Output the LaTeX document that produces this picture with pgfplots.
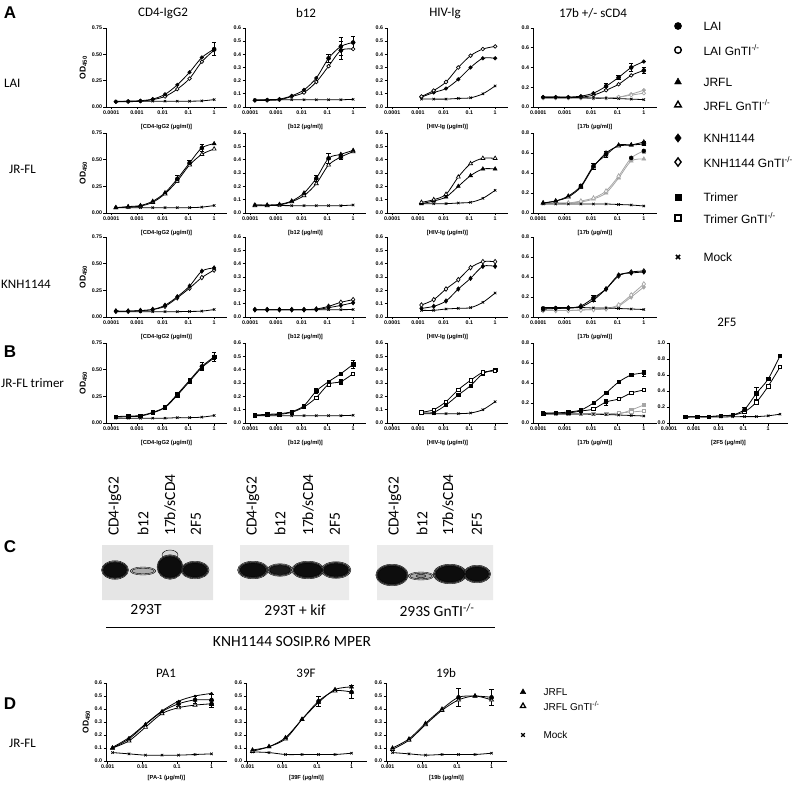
\documentclass[border=0pt]{standalone}
\usepackage{fontspec}
\setmainfont{Liberation Sans}
\newfontfamily\calfont{Carlito}
\usepackage{pgfplots}
\usepackage{pgfplotstable}
\pgfplotsset{compat=1.18}
\newcommand{\tickfont}{\fontsize{5.3}{6}\selectfont\bfseries}
\newcommand{\labfont}{\fontsize{5.8}{6.5}\selectfont\bfseries}
\newcommand{\odfont}{\fontsize{8.5}{9}\selectfont\bfseries}
\newcommand{\ttl}{\calfont\fontsize{13}{14}\selectfont}
\newcommand{\blotfont}{\calfont\fontsize{15.5}{16}\selectfont}
\newcommand{\legfont}{\fontsize{12}{13}\selectfont}
\newcommand{\legDfont}{\fontsize{10}{11}\selectfont}
\newcommand{\panfont}{\fontsize{17}{18}\selectfont\bfseries}
\newcommand{\OD}{OD\textsubscript{450}}

\pgfplotsset{
 myax/.style={
  /pgfplots/scale only axis, /pgfplots/clip=false,
  /pgfplots/axis x line*=bottom, /pgfplots/axis y line*=left,
  /pgfplots/axis line style={line width=0.9pt,-},
  /pgfplots/xminorticks=false, /pgfplots/yminorticks=false,
  /pgfplots/tick align=outside, /pgfplots/major tick length=2.5pt,
  /pgfplots/tick style={line width=0.8pt, black},
  /pgfplots/tick label style={font=\tickfont, inner sep=1.2pt},
  /pgfplots/xtick={0.0001,0.001,0.01,0.1,1},
  /pgfplots/xticklabels={0.0001,0.001,0.01,0.1,1},
  /pgfplots/xmin=0.000063, /pgfplots/xmax=3.16, /pgfplots/ymin=0,
  /pgfplots/width=121pt, /pgfplots/height=79pt,
  /pgfplots/xlabel style={font=\labfont, yshift=-5pt},
  /pgfplots/ylabel style={font=\odfont},
 },
 myyA/.style={/pgfplots/ymax=0.75, /pgfplots/ytick={0,0.25,0.5,0.75}, /pgfplots/yticklabels={0.00,0.25,0.50,0.75}},
 myyB/.style={/pgfplots/ymax=0.6, /pgfplots/ytick={0,0.1,0.2,0.3,0.4,0.5,0.6}, /pgfplots/yticklabels={0.0,0.1,0.2,0.3,0.4,0.5,0.6}},
 myyC/.style={/pgfplots/ymax=0.8, /pgfplots/ytick={0,0.2,0.4,0.6,0.8}, /pgfplots/yticklabels={0.0,0.2,0.4,0.6,0.8}},
 myyD/.style={/pgfplots/ymax=1.0, /pgfplots/ytick={0,0.2,0.4,0.6,0.8,1.0}, /pgfplots/yticklabels={0.0,0.2,0.4,0.6,0.8,1.0}},
 sbase/.style={black, line width=0.8pt, smooth, tension=0.5, mark size=1.8pt},
 sfc/.style={sbase, mark=*, mark options={solid, line width=0.5pt}},
 soc/.style={sbase, mark=*, mark options={solid, fill=white, line width=0.7pt}},
 sft/.style={sbase, mark=triangle*, mark size=2.3pt, mark options={solid, line width=0.5pt}},
 sot/.style={sbase, mark=triangle*, mark size=2.3pt, mark options={solid, fill=white, line width=0.7pt}},
 sfd/.style={sbase, mark=diamond*, mark size=2.3pt, mark options={solid, line width=0.5pt}},
 sod/.style={sbase, mark=diamond*, mark size=2.3pt, mark options={solid, fill=white, line width=0.7pt}},
 sfs/.style={sbase, mark=square*, mark size=1.7pt, mark options={solid, line width=0.5pt}},
 sos/.style={sbase, mark=square*, mark size=1.7pt, mark options={solid, fill=white, line width=0.7pt}},
 smk/.style={sbase, mark=x, mark size=1.7pt, mark options={solid, line width=0.7pt}},
 sgr/.style={gray!70},
 seb/.style={only marks, mark=none,
   /pgfplots/error bars/y dir=both, /pgfplots/error bars/y explicit,
   /pgfplots/error bars/error bar style={line width=0.7pt, black},
   /pgfplots/error bars/error mark options={rotate=90, mark size=2.2pt, line width=0.7pt, black}},
 sebg/.style={only marks, mark=none,
   /pgfplots/error bars/y dir=both, /pgfplots/error bars/y explicit,
   /pgfplots/error bars/error bar style={line width=0.7pt, gray!70},
   /pgfplots/error bars/error mark options={rotate=90, mark size=2.2pt, line width=0.7pt, gray!70}},
 bandO/.style n args={3}{only marks, mark=*, mark size=#1pt, mark options={xscale=#2, draw=none, fill=#3}},
}

% ---------------- data ----------------
\pgfplotstableread{
x f o m
0.0001524 0.050 0.050 0.055
0.000457 0.055 0.050 0.055
0.001372 0.060 0.055 0.055
0.004115 0.075 0.070 0.055
0.01235 0.120 0.100 0.055
0.03704 0.210 0.170 0.055
0.1111 0.330 0.270 0.055
0.3333 0.470 0.430 0.058
1 0.550 0.540 0.070
}\tLcd
\pgfplotstableread{
x f o m
0.0001524 0.050 0.050 0.055
0.000457 0.055 0.050 0.055
0.001372 0.060 0.055 0.055
0.004115 0.085 0.080 0.055
0.01235 0.130 0.110 0.055
0.03704 0.220 0.190 0.055
0.1111 0.370 0.310 0.055
0.3333 0.460 0.430 0.055
1 0.490 0.440 0.058
}\tLb
\pgfplotstableread{
x f o m
0.001372 0.075 0.080 0.060
0.004115 0.110 0.125 0.060
0.01235 0.140 0.190 0.060
0.03704 0.210 0.300 0.065
0.1111 0.300 0.390 0.070
0.3333 0.370 0.440 0.100
1 0.370 0.460 0.160
}\tLh
\pgfplotstableread{
x f o gf go m
0.0001524 0.100 0.100 0.090 0.090 0.095
0.000457 0.100 0.100 0.090 0.090 0.095
0.001372 0.100 0.100 0.090 0.090 0.095
0.004115 0.110 0.100 0.090 0.090 0.095
0.01235 0.140 0.120 0.090 0.090 0.090
0.03704 0.210 0.170 0.090 0.090 0.090
0.1111 0.300 0.230 0.100 0.100 0.085
0.3333 0.400 0.320 0.130 0.120 0.080
1 0.460 0.370 0.170 0.140 0.075
}\tLs
\pgfplotstableread{
x f o m
0.0001524 0.050 0.050 0.050
0.000457 0.060 0.055 0.050
0.001372 0.070 0.065 0.050
0.004115 0.110 0.100 0.050
0.01235 0.190 0.180 0.050
0.03704 0.320 0.300 0.050
0.1111 0.470 0.450 0.050
0.3333 0.610 0.550 0.055
1 0.650 0.600 0.070
}\tJcd
\pgfplotstableread{
x f o m
0.0001524 0.060 0.055 0.060
0.000457 0.060 0.055 0.058
0.001372 0.065 0.060 0.056
0.004115 0.090 0.085 0.055
0.01235 0.150 0.130 0.055
0.03704 0.260 0.220 0.055
0.1111 0.410 0.360 0.055
0.3333 0.440 0.420 0.055
1 0.470 0.460 0.060
}\tJb
\pgfplotstableread{
x f o m
0.001372 0.070 0.080 0.070
0.004115 0.090 0.100 0.070
0.01235 0.120 0.140 0.070
0.03704 0.200 0.270 0.075
0.1111 0.280 0.370 0.080
0.3333 0.330 0.410 0.110
1 0.330 0.410 0.170
}\tJh
\pgfplotstableread{
x f o gf go m
0.0001524 0.100 0.100 0.100 0.100 0.090
0.000457 0.120 0.120 0.100 0.100 0.090
0.001372 0.170 0.160 0.100 0.100 0.090
0.004115 0.270 0.260 0.110 0.120 0.090
0.01235 0.470 0.460 0.140 0.150 0.090
0.03704 0.580 0.600 0.200 0.220 0.090
0.1111 0.680 0.670 0.350 0.370 0.085
0.3333 0.680 0.680 0.520 0.550 0.080
1 0.690 0.710 0.540 0.620 0.070
}\tJs
\pgfplotstableread{
x f o m
0.0001524 0.055 0.055 0.050
0.000457 0.055 0.055 0.050
0.001372 0.060 0.060 0.050
0.004115 0.070 0.070 0.050
0.01235 0.110 0.100 0.050
0.03704 0.190 0.180 0.050
0.1111 0.290 0.270 0.052
0.3333 0.430 0.370 0.055
1 0.460 0.440 0.070
}\tKcd
\pgfplotstableread{
x f o m
0.0001524 0.055 0.055 0.055
0.000457 0.055 0.055 0.055
0.001372 0.055 0.055 0.055
0.004115 0.055 0.055 0.055
0.01235 0.055 0.055 0.055
0.03704 0.056 0.060 0.055
0.1111 0.070 0.080 0.055
0.3333 0.087 0.110 0.055
1 0.107 0.130 0.056
}\tKb
\pgfplotstableread{
x f o m
0.001372 0.065 0.090 0.050
0.004115 0.080 0.130 0.050
0.01235 0.120 0.210 0.060
0.03704 0.210 0.280 0.065
0.1111 0.290 0.370 0.070
0.3333 0.380 0.415 0.110
1 0.380 0.415 0.180
}\tKh
\pgfplotstableread{
x f o gf go m
0.0001524 0.080 0.080 0.065 0.065 0.095
0.000457 0.085 0.085 0.065 0.065 0.095
0.001372 0.090 0.090 0.065 0.065 0.095
0.004115 0.100 0.110 0.070 0.070 0.095
0.01235 0.170 0.190 0.075 0.075 0.090
0.03704 0.280 0.280 0.080 0.085 0.090
0.1111 0.420 0.410 0.110 0.120 0.085
0.3333 0.440 0.450 0.200 0.220 0.080
1 0.450 0.460 0.300 0.330 0.075
}\tKs
\pgfplotstableread{
x f o m
0.0001524 0.060 0.055 0.045
0.000457 0.065 0.060 0.045
0.001372 0.070 0.065 0.045
0.004115 0.100 0.095 0.045
0.01235 0.150 0.145 0.045
0.03704 0.270 0.260 0.050
0.1111 0.400 0.390 0.050
0.3333 0.530 0.520 0.055
1 0.620 0.610 0.070
}\tTcd
\pgfplotstableread{
x f o m
0.0001524 0.060 0.055 0.055
0.000457 0.065 0.060 0.055
0.001372 0.070 0.065 0.055
0.004115 0.085 0.080 0.055
0.01235 0.130 0.120 0.055
0.03704 0.240 0.190 0.055
0.1111 0.310 0.290 0.055
0.3333 0.370 0.310 0.055
1 0.440 0.370 0.058
}\tTb
\pgfplotstableread{
x f o m
0.001372 0.075 0.080 0.070
0.004115 0.080 0.100 0.070
0.01235 0.135 0.160 0.070
0.03704 0.210 0.250 0.070
0.1111 0.280 0.320 0.075
0.3333 0.370 0.380 0.100
1 0.400 0.390 0.160
}\tTh
\pgfplotstableread{
x f o gf go m
0.0001524 0.095 0.100 0.090 0.090 0.090
0.000457 0.100 0.100 0.090 0.090 0.090
0.001372 0.110 0.100 0.090 0.090 0.090
0.004115 0.130 0.120 0.090 0.090 0.090
0.01235 0.200 0.140 0.090 0.090 0.088
0.03704 0.300 0.210 0.090 0.090 0.085
0.1111 0.410 0.240 0.090 0.100 0.080
0.3333 0.480 0.300 0.130 0.110 0.075
1 0.500 0.330 0.180 0.120 0.070
}\tTs
\pgfplotstableread{
x f o m
0.000457 0.075 0.075 0.075
0.001372 0.080 0.080 0.075
0.004115 0.080 0.080 0.075
0.01235 0.090 0.090 0.075
0.03704 0.100 0.100 0.078
0.1111 0.170 0.140 0.080
0.3333 0.370 0.260 0.080
1 0.550 0.460 0.090
3 0.840 0.700 0.110
}\tTf
\pgfplotstableread{
x t f o m
0.001372 0.105 0.100 0.100 0.065
0.004115 0.180 0.170 0.155 0.055
0.01235 0.285 0.280 0.260 0.045
0.03704 0.385 0.380 0.365 0.045
0.1111 0.460 0.440 0.410 0.045
0.3333 0.500 0.470 0.430 0.050
1 0.520 0.470 0.440 0.055
}\tDa
\pgfplotstableread{
x f o m
0.001372 0.085 0.075 0.070
0.004115 0.110 0.110 0.065
0.01235 0.180 0.170 0.050
0.03704 0.320 0.320 0.050
0.1111 0.450 0.460 0.050
0.3333 0.550 0.540 0.050
1 0.570 0.530 0.060
}\tDb
\pgfplotstableread{
x f o m
0.001372 0.100 0.090 0.065
0.004115 0.170 0.160 0.055
0.01235 0.290 0.280 0.045
0.03704 0.400 0.390 0.050
0.1111 0.490 0.470 0.050
0.3333 0.500 0.500 0.050
1 0.490 0.470 0.060
}\tDc

\begin{document}
\begin{tikzpicture}
\path[use as bounding box] (0pt,0pt) rectangle (800pt,788pt);

% ================= overlay: text, legend, blot =================
\begin{axis}[at={(0pt,0pt)}, anchor=south west, scale only axis, width=800pt, height=788pt,
  xmin=0, xmax=800, ymin=0, ymax=788, y dir=reverse, hide axis, clip=false]
\node[font=\panfont] at (axis cs:10,13) {A};
\node[font=\panfont] at (axis cs:10,352) {B};
\node[font=\panfont] at (axis cs:10,547) {C};
\node[font=\panfont] at (axis cs:10,704) {D};
\node[font=\ttl] at (axis cs:163,13) {CD4-IgG2};
\node[font=\ttl] at (axis cs:306,13) {b12};
\node[font=\ttl] at (axis cs:445,13) {HIV-Ig};
\node[font=\ttl] at (axis cs:593,13) {17b +/- sCD4};
\node[font=\ttl] at (axis cs:727,322) {2F5};
\node[font=\ttl] at (axis cs:166,673) {PA1};
\node[font=\ttl] at (axis cs:306,673) {39F};
\node[font=\ttl] at (axis cs:446,673) {19b};
\node[font=\ttl, anchor=west, inner sep=0pt] at (axis cs:4,83) {LAI};
\node[font=\ttl, anchor=west, inner sep=0pt] at (axis cs:9,169) {JR-FL};
\node[font=\ttl, anchor=west, inner sep=0pt] at (axis cs:1,284) {KNH1144};
\node[font=\ttl, anchor=west, inner sep=0pt] at (axis cs:1,383) {JR-FL trimer};
\node[font=\ttl, anchor=west, inner sep=0pt] at (axis cs:9,743) {JR-FL};
% legend A
\addplot[only marks, mark=*, mark size=3.6pt] coordinates {(678,26)};
\addplot[only marks, mark=*, mark size=3.3pt, mark options={fill=white, line width=1.4pt}] coordinates {(678,50)};
\addplot[only marks, mark=triangle*, mark size=4pt] coordinates {(678,82)};
\addplot[only marks, mark=triangle*, mark size=3.8pt, mark options={fill=white, line width=1.4pt}] coordinates {(678,105)};
\addplot[only marks, mark=diamond*, mark size=4.3pt] coordinates {(678,138)};
\addplot[only marks, mark=diamond*, mark size=4.1pt, mark options={fill=white, line width=1.4pt}] coordinates {(678,162)};
\addplot[only marks, mark=square*, mark size=3.3pt] coordinates {(678,197)};
\addplot[only marks, mark=square*, mark size=3.1pt, mark options={fill=white, line width=1.4pt}] coordinates {(678,218)};
\addplot[only marks, mark=x, mark size=3pt, mark options={line width=1.5pt}] coordinates {(678,257)};
\node[anchor=west, font=\legfont] at (axis cs:700,26) {LAI};
\node[anchor=west, font=\legfont] at (axis cs:700,50) {LAI GnTI\textsuperscript{-/-}};
\node[anchor=west, font=\legfont] at (axis cs:700,82) {JRFL};
\node[anchor=west, font=\legfont] at (axis cs:700,105) {JRFL GnTI\textsuperscript{-/-}};
\node[anchor=west, font=\legfont] at (axis cs:700,138) {KNH1144};
\node[anchor=west, font=\legfont] at (axis cs:700,162) {KNH1144 GnTI\textsuperscript{-/-}};
\node[anchor=west, font=\legfont] at (axis cs:700,197) {Trimer};
\node[anchor=west, font=\legfont] at (axis cs:700,218) {Trimer GnTI\textsuperscript{-/-}};
\node[anchor=west, font=\legfont] at (axis cs:700,257) {Mock};
% legend D
\addplot[only marks, mark=triangle*, mark size=3.2pt] coordinates {(523,692)};
\addplot[only marks, mark=triangle*, mark size=3pt, mark options={fill=white, line width=1.2pt}] coordinates {(523,706)};
\addplot[only marks, mark=x, mark size=2.5pt, mark options={line width=1.3pt}] coordinates {(523,735)};
\node[anchor=west, font=\legDfont] at (axis cs:540,692) {JRFL};
\node[anchor=west, font=\legDfont] at (axis cs:540,706) {JRFL GnTI\textsuperscript{-/-}};
\node[anchor=west, font=\legDfont] at (axis cs:540,735) {Mock};
% ---- blot backgrounds ----
\addplot[fill=gray!20, draw=none] coordinates {(102,545) (213,545) (213,600) (102,600) (102,545)};
\addplot[fill=gray!16, draw=none] coordinates {(240,545) (349,545) (349,600) (240,600) (240,545)};
\addplot[fill=gray!16, draw=none] coordinates {(377,545) (493,545) (493,600) (377,600) (377,545)};
% faint smear above 17b band
\addplot[bandO={5}{1.6}{gray!32}] coordinates {(170,555)};
% band outer blur
\addplot[bandO={9.3}{1.45}{black!35}] coordinates {(115,570)};
\addplot[bandO={12.3}{1.05}{black!35}] coordinates {(170,567)};
\addplot[bandO={8.8}{1.6}{black!35}] coordinates {(195,570)};
\addplot[bandO={8.8}{1.75}{black!35}] coordinates {(253,570)};
\addplot[bandO={6.3}{2.05}{black!30}] coordinates {(280,570)};
\addplot[bandO={8.8}{1.85}{black!35}] coordinates {(308,570)};
\addplot[bandO={8.3}{1.8}{black!35}] coordinates {(336,570)};
\addplot[bandO={10.8}{1.5}{black!35}] coordinates {(392,575)};
\addplot[bandO={9.8}{1.7}{black!35}] coordinates {(450,574)};
\addplot[bandO={8.8}{1.55}{black!35}] coordinates {(477,574)};
\addplot[bandO={4}{3.2}{gray!40}] coordinates {(143,571) (421,576)};
% band middle
\addplot[bandO={8.4}{1.5}{black!70}] coordinates {(115,570)};
\addplot[bandO={11.4}{1.08}{black!70}] coordinates {(170,567)};
\addplot[bandO={7.9}{1.65}{black!70}] coordinates {(195,570)};
\addplot[bandO={7.9}{1.8}{black!70}] coordinates {(253,570)};
\addplot[bandO={5.4}{2.15}{black!65}] coordinates {(280,570)};
\addplot[bandO={7.9}{1.9}{black!70}] coordinates {(308,570)};
\addplot[bandO={7.4}{1.85}{black!70}] coordinates {(336,570)};
\addplot[bandO={9.9}{1.55}{black!70}] coordinates {(392,575)};
\addplot[bandO={8.9}{1.75}{black!70}] coordinates {(450,574)};
\addplot[bandO={7.9}{1.6}{black!70}] coordinates {(477,574)};
\addplot[bandO={2.8}{4}{gray!65}] coordinates {(143,571) (421,576)};
% band cores
\addplot[bandO={7.5}{1.55}{black!95}] coordinates {(115,570)};
\addplot[bandO={10.5}{1.1}{black!95}] coordinates {(170,567)};
\addplot[bandO={7}{1.7}{black!95}] coordinates {(195,570)};
\addplot[bandO={7}{1.85}{black!95}] coordinates {(253,570)};
\addplot[bandO={4.5}{2.3}{black!90}] coordinates {(280,570)};
\addplot[bandO={7}{2.0}{black!95}] coordinates {(308,570)};
\addplot[bandO={6.5}{1.9}{black!95}] coordinates {(336,570)};
\addplot[bandO={9}{1.6}{black!95}] coordinates {(392,575)};
\addplot[bandO={8}{1.8}{black!95}] coordinates {(450,574)};
\addplot[bandO={7}{1.65}{black!95}] coordinates {(477,574)};
\addplot[bandO={1.6}{3}{gray!90}] coordinates {(421,576)};
% lane labels
\node[rotate=90, anchor=west, font=\blotfont, inner sep=0pt] at (axis cs:115,536) {CD4-IgG2};
\node[rotate=90, anchor=west, font=\blotfont, inner sep=0pt] at (axis cs:143,536) {b12};
\node[rotate=90, anchor=west, font=\blotfont, inner sep=0pt] at (axis cs:170,536) {17b/sCD4};
\node[rotate=90, anchor=west, font=\blotfont, inner sep=0pt] at (axis cs:196,536) {2F5};
\node[rotate=90, anchor=west, font=\blotfont, inner sep=0pt] at (axis cs:253,536) {CD4-IgG2};
\node[rotate=90, anchor=west, font=\blotfont, inner sep=0pt] at (axis cs:280,536) {b12};
\node[rotate=90, anchor=west, font=\blotfont, inner sep=0pt] at (axis cs:308,536) {17b/sCD4};
\node[rotate=90, anchor=west, font=\blotfont, inner sep=0pt] at (axis cs:335,536) {2F5};
\node[rotate=90, anchor=west, font=\blotfont, inner sep=0pt] at (axis cs:395,536) {CD4-IgG2};
\node[rotate=90, anchor=west, font=\blotfont, inner sep=0pt] at (axis cs:422,536) {b12};
\node[rotate=90, anchor=west, font=\blotfont, inner sep=0pt] at (axis cs:448,536) {17b/sCD4};
\node[rotate=90, anchor=west, font=\blotfont, inner sep=0pt] at (axis cs:477,536) {2F5};
\node[font=\blotfont] at (axis cs:146,610) {293T};
\node[font=\blotfont] at (axis cs:295,610) {293T + kif};
\node[font=\blotfont] at (axis cs:437,610) {293S GnTI\textsuperscript{-/-}};
\addplot[black, line width=0.9pt] coordinates {(106,627) (495,627)};
\node[font=\blotfont] at (axis cs:292,641) {KNH1144 SOSIP.R6 MPER};
\end{axis}

% ================= Row 1: LAI =================
\begin{semilogxaxis}[myax, myyA, at={(106pt,681pt)}, xlabel={[CD4-IgG2 (μg/ml)]}, ylabel={\OD}]
\addplot[smk] table[y=m]{\tLcd};
\addplot[soc] table[y=o]{\tLcd};
\addplot[sfc] table[y=f]{\tLcd};
\addplot[seb] coordinates {(1,0.55) +- (0,0.06)};
\end{semilogxaxis}
\begin{semilogxaxis}[myax, myyB, at={(245pt,681pt)}, xlabel={[b12 (μg/ml)]}]
\addplot[smk] table[y=m]{\tLb};
\addplot[soc] table[y=o]{\tLb};
\addplot[sfc] table[y=f]{\tLb};
\addplot[seb] coordinates {(0.3333,0.46) +- (0,0.07) (1,0.49) +- (0,0.05) (0.3333,0.43) +- (0,0.07) (0.1111,0.37) +- (0,0.03)};
\end{semilogxaxis}
\begin{semilogxaxis}[myax, myyB, at={(387pt,681pt)}, xlabel={[HIV-Ig (μg/ml)]}]
\addplot[smk] table[y=m]{\tLh};
\addplot[sfc] table[y=f]{\tLh};
\addplot[soc] table[y=o]{\tLh};
\end{semilogxaxis}
\begin{semilogxaxis}[myax, myyC, at={(533pt,681pt)}, width=124pt, xlabel={[17b (μg/ml)]}]
\addplot[sfc, sgr] table[y=gf]{\tLs};
\addplot[soc, sgr] table[y=go]{\tLs};
\addplot[smk] table[y=m]{\tLs};
\addplot[soc] table[y=o]{\tLs};
\addplot[sfc] table[y=f]{\tLs};
\addplot[seb] coordinates {(0.3333,0.40) +- (0,0.04) (1,0.37) +- (0,0.03) (0.03704,0.21) +- (0,0.03) (0.1111,0.30) +- (0,0.02)};
\end{semilogxaxis}

% ================= Row 2: JR-FL =================
\begin{semilogxaxis}[myax, myyA, at={(106pt,575pt)}, height=80pt, xlabel={[CD4-IgG2 (μg/ml)]}, ylabel={\OD}]
\addplot[smk] table[y=m]{\tJcd};
\addplot[sot] table[y=o]{\tJcd};
\addplot[sft] table[y=f]{\tJcd};
\addplot[seb] coordinates {(0.3333,0.61) +- (0,0.03) (0.03704,0.32) +- (0,0.03) (0.1111,0.47) +- (0,0.02)};
\end{semilogxaxis}
\begin{semilogxaxis}[myax, myyB, at={(245pt,575pt)}, height=80pt, xlabel={[b12 (μg/ml)]}]
\addplot[smk] table[y=m]{\tJb};
\addplot[sot] table[y=o]{\tJb};
\addplot[sft] table[y=f]{\tJb};
\addplot[seb] coordinates {(0.1111,0.41) +- (0,0.035) (0.3333,0.42) +- (0,0.02) (0.03704,0.26) +- (0,0.025)};
\end{semilogxaxis}
\begin{semilogxaxis}[myax, myyB, at={(387pt,575pt)}, height=80pt, xlabel={[HIV-Ig (μg/ml)]}]
\addplot[smk] table[y=m]{\tJh};
\addplot[sft] table[y=f]{\tJh};
\addplot[sot] table[y=o]{\tJh};
\end{semilogxaxis}
\begin{semilogxaxis}[myax, myyC, at={(533pt,575pt)}, width=124pt, height=80pt, xlabel={[17b (μg/ml)]}]
\addplot[sft, sgr] table[y=gf]{\tJs};
\addplot[sot, sgr] table[y=go]{\tJs};
\addplot[sebg] coordinates {(1,0.62) +- (0,0.02) (0.3333,0.55) +- (0,0.02)};
\addplot[smk] table[y=m]{\tJs};
\addplot[sot] table[y=o]{\tJs};
\addplot[sft] table[y=f]{\tJs};
\addplot[seb] coordinates {(0.004115,0.27) +- (0,0.02) (0.01235,0.47) +- (0,0.03) (0.03704,0.59) +- (0,0.03) (1,0.70) +- (0,0.02)};
\end{semilogxaxis}

% ================= Row 3: KNH1144 =================
\begin{semilogxaxis}[myax, myyA, at={(106pt,471pt)}, height=80pt, xlabel={[CD4-IgG2 (μg/ml)]}, ylabel={\OD}]
\addplot[smk] table[y=m]{\tKcd};
\addplot[sod] table[y=o]{\tKcd};
\addplot[sfd] table[y=f]{\tKcd};
\end{semilogxaxis}
\begin{semilogxaxis}[myax, myyB, at={(245pt,471pt)}, height=80pt, xlabel={[b12 (μg/ml)]}]
\addplot[smk] table[y=m]{\tKb};
\addplot[sod] table[y=o]{\tKb};
\addplot[sfd] table[y=f]{\tKb};
\end{semilogxaxis}
\begin{semilogxaxis}[myax, myyB, at={(387pt,471pt)}, height=80pt, xlabel={[HIV-Ig (μg/ml)]}]
\addplot[smk] table[y=m]{\tKh};
\addplot[sfd] table[y=f]{\tKh};
\addplot[sod] table[y=o]{\tKh};
\end{semilogxaxis}
\begin{semilogxaxis}[myax, myyC, at={(533pt,471pt)}, width=124pt, height=80pt, xlabel={[17b (μg/ml)]}]
\addplot[sfd, sgr] table[y=gf]{\tKs};
\addplot[sod, sgr] table[y=go]{\tKs};
\addplot[smk] table[y=m]{\tKs};
\addplot[sod] table[y=o]{\tKs};
\addplot[sfd] table[y=f]{\tKs};
\addplot[seb] coordinates {(0.01235,0.19) +- (0,0.03) (0.0001524,0.08) +- (0,0.02)};
\end{semilogxaxis}

% ================= Row B: JR-FL trimer =================
\begin{semilogxaxis}[myax, myyA, at={(106pt,365pt)}, height=80pt, xlabel={[CD4-IgG2 (μg/ml)]}, ylabel={\OD}]
\addplot[smk] table[y=m]{\tTcd};
\addplot[sos] table[y=o]{\tTcd};
\addplot[sfs] table[y=f]{\tTcd};
\addplot[seb] coordinates {(1,0.62) +- (0,0.04) (0.3333,0.53) +- (0,0.04) (0.03704,0.27) +- (0,0.02)};
\end{semilogxaxis}
\begin{semilogxaxis}[myax, myyB, at={(245pt,365pt)}, height=80pt, xlabel={[b12 (μg/ml)]}]
\addplot[smk] table[y=m]{\tTb};
\addplot[sos] table[y=o]{\tTb};
\addplot[sfs] table[y=f]{\tTb};
\addplot[seb] coordinates {(1,0.44) +- (0,0.03) (0.03704,0.24) +- (0,0.02) (0.3333,0.31) +- (0,0.02)};
\end{semilogxaxis}
\begin{semilogxaxis}[myax, myyB, at={(387pt,365pt)}, height=80pt, xlabel={[HIV-Ig (μg/ml)]}]
\addplot[smk] table[y=m]{\tTh};
\addplot[sfs] table[y=f]{\tTh};
\addplot[sos] table[y=o]{\tTh};
\end{semilogxaxis}
\begin{semilogxaxis}[myax, myyC, at={(533pt,365pt)}, width=124pt, height=80pt, xlabel={[17b (μg/ml)]}]
\addplot[sfs, sgr] table[y=gf]{\tTs};
\addplot[sos, sgr] table[y=go]{\tTs};
\addplot[smk] table[y=m]{\tTs};
\addplot[sos] table[y=o]{\tTs};
\addplot[sfs] table[y=f]{\tTs};
\addplot[seb] coordinates {(1,0.50) +- (0,0.03) (0.03704,0.21) +- (0,0.03)};
\end{semilogxaxis}
\begin{semilogxaxis}[myax, myyD, at={(669pt,365pt)}, width=119pt, height=80pt, xmin=0.0001, xmax=6.3,
  xtick={0.0001,0.001,0.01,0.1,1,10}, xticklabels={0.0001,0.001,0.01,0.1,1,10},
  xlabel={[2F5 (μg/ml)]}]
\addplot[smk] table[y=m]{\tTf};
\addplot[sos] table[y=o]{\tTf};
\addplot[sfs] table[y=f]{\tTf};
\addplot[seb] coordinates {(0.3333,0.37) +- (0,0.08) (0.1111,0.17) +- (0,0.03)};
\end{semilogxaxis}

% ================= Row D =================
\begin{semilogxaxis}[myax, myyB, at={(106pt,27pt)}, height=78pt, xmin=0.00089, xmax=2.8,
  xtick={0.001,0.01,0.1,1}, xticklabels={0.001,0.01,0.1,1},
  xlabel={[PA-1 (μg/ml)]}, xlabel style={yshift=3pt}, ylabel={\OD}]
\addplot[smk] table[y=m]{\tDa};
\addplot[sbase, mark=*, mark size=0.9pt] table[y=t]{\tDa};
\addplot[sot] table[y=o]{\tDa};
\addplot[sft] table[y=f]{\tDa};
\addplot[seb] coordinates {(1,0.47) +- (0,0.04) (0.3333,0.47) +- (0,0.03) (0.1111,0.44) +- (0,0.02) (1,0.44) +- (0,0.03)};
\end{semilogxaxis}
\begin{semilogxaxis}[myax, myyB, at={(246pt,27pt)}, height=78pt, xmin=0.00089, xmax=2.8,
  xtick={0.001,0.01,0.1,1}, xticklabels={0.001,0.01,0.1,1},
  xlabel={[39F (μg/ml)]}, xlabel style={yshift=3pt}]
\addplot[smk] table[y=m]{\tDb};
\addplot[sot] table[y=o]{\tDb};
\addplot[sft] table[y=f]{\tDb};
\addplot[seb] coordinates {(0.1111,0.46) +- (0,0.04) (1,0.53) +- (0,0.05)};
\end{semilogxaxis}
\begin{semilogxaxis}[myax, myyB, at={(386pt,27pt)}, height=78pt, xmin=0.00089, xmax=2.8,
  xtick={0.001,0.01,0.1,1}, xticklabels={0.001,0.01,0.1,1},
  xlabel={[19b (μg/ml)]}, xlabel style={yshift=3pt}]
\addplot[smk] table[y=m]{\tDc};
\addplot[sot] table[y=o]{\tDc};
\addplot[sft] table[y=f]{\tDc};
\addplot[seb] coordinates {(0.1111,0.49) +- (0,0.07) (1,0.49) +- (0,0.06)};
\end{semilogxaxis}
\end{tikzpicture}
\end{document}
